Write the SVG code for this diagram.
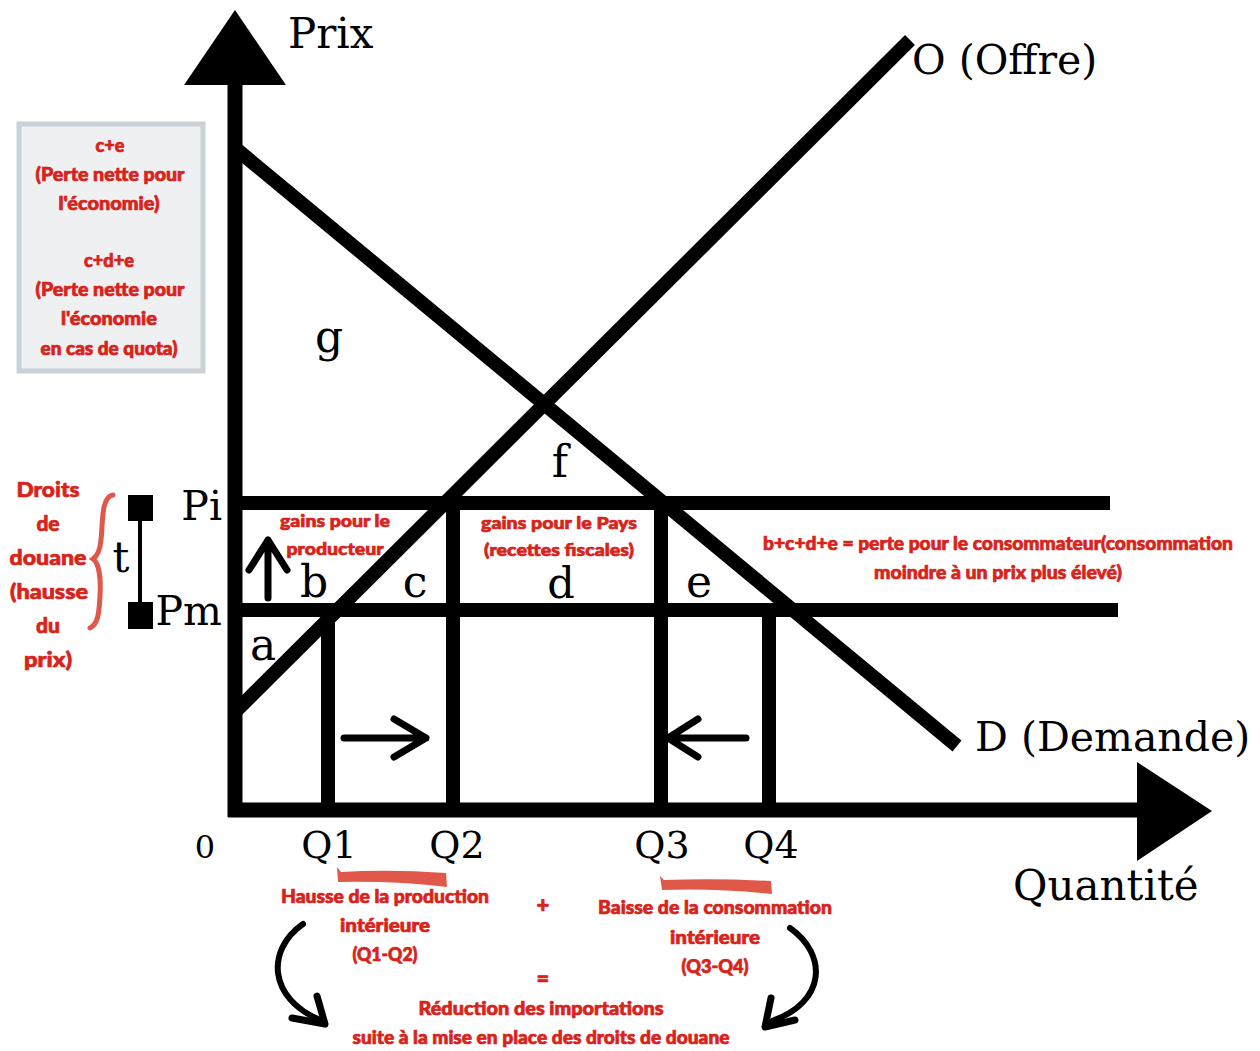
<svg xmlns="http://www.w3.org/2000/svg" width="1260" height="1051" viewBox="0 0 1260 1051">
<style>
.ln{stroke:#000;stroke-width:14;fill:none}
.ar{stroke:#000;stroke-width:7;fill:none;stroke-linecap:round;stroke-linejoin:round}
.sf{font-family:"DejaVu Serif","Liberation Serif",serif;fill:#000}
.rd{font-family:Lato,"Open Sans","Liberation Sans",sans-serif;font-weight:900;fill:#d9231a;stroke:#d9231a;stroke-width:0.7;font-size:18px;text-anchor:middle}
.br{fill:#e0584a}
</style>
<rect width="1260" height="1051" fill="#fff"/>

<g id="note-box">
<rect x="19" y="124" width="184" height="247" fill="#eef0f2" stroke="#c9d1d9" stroke-width="5"/>
<text class="rd" x="110" y="152" textLength="29" lengthAdjust="spacingAndGlyphs">c+e</text>
<text class="rd" x="110" y="181" textLength="149" lengthAdjust="spacingAndGlyphs">(Perte nette pour</text>
<text class="rd" x="109" y="210" textLength="101" lengthAdjust="spacingAndGlyphs">l'économie)</text>
<text class="rd" x="109" y="267" textLength="50" lengthAdjust="spacingAndGlyphs">c+d+e</text>
<text class="rd" x="110" y="296" textLength="149" lengthAdjust="spacingAndGlyphs">(Perte nette pour</text>
<text class="rd" x="109" y="325" textLength="96" lengthAdjust="spacingAndGlyphs">l'économie</text>
<text class="rd" x="109" y="355" textLength="137" lengthAdjust="spacingAndGlyphs">en cas de quota)</text>
</g>

<g id="droits-label">
<text class="rd" style="font-size:21px" x="48" y="497" textLength="63" lengthAdjust="spacingAndGlyphs">Droits</text>
<text class="rd" style="font-size:21px" x="48" y="531">de</text>
<text class="rd" style="font-size:21px" x="48" y="565" textLength="77" lengthAdjust="spacingAndGlyphs">douane</text>
<text class="rd" style="font-size:21px" x="49" y="599" textLength="78" lengthAdjust="spacingAndGlyphs">(hausse</text>
<text class="rd" style="font-size:21px" x="48" y="633">du</text>
<text class="rd" style="font-size:21px" x="48" y="667" textLength="48" lengthAdjust="spacingAndGlyphs">prix)</text>
<path d="M113,495 C101,497 103,522 101,540 C100,551 97,556 93,559 C99,563 101,578 100,596 C99,614 98,624 90,628" fill="none" stroke="#e0584a" stroke-width="5" stroke-linecap="round"/>
</g>

<g id="tariff-t">
<rect x="128" y="495" width="25" height="26" fill="#000"/>
<rect x="128" y="602" width="25" height="27" fill="#000"/>
<line x1="140" y1="510" x2="140" y2="615" stroke="#000" stroke-width="4"/>
<text class="sf" x="121" y="572" font-size="42" text-anchor="middle">t</text>
</g>

<g id="axes">
<line class="ln" x1="235" y1="80" x2="235" y2="817" style="stroke-width:15"/>
<polygon points="235,10 184,85 286,85" fill="#000"/>
<line class="ln" x1="228" y1="810" x2="1142" y2="810" style="stroke-width:15"/>
<polygon points="1137,762 1137,861 1212,811" fill="#000"/>
<text class="sf" x="288" y="48" font-size="42">Prix</text>
<text class="sf" x="1013" y="900" font-size="42">Quantité</text>
<text class="sf" x="205" y="858" font-size="32" text-anchor="middle">0</text>
</g>

<g id="price-lines">
<line class="ln" x1="235" y1="503" x2="1110" y2="503"/>
<line class="ln" x1="235" y1="610" x2="1118" y2="610"/>
<text class="sf" x="222" y="520" font-size="41" text-anchor="end">Pi</text>
<text class="sf" x="222" y="625" font-size="41" text-anchor="end">Pm</text>
</g>

<g id="quantity-lines">
<line class="ln" x1="328" y1="610" x2="328" y2="810"/>
<line class="ln" x1="453" y1="503" x2="453" y2="810"/>
<line class="ln" x1="661" y1="503" x2="661" y2="810"/>
<line class="ln" x1="769" y1="610" x2="769" y2="810"/>
<text class="sf" x="329" y="858" font-size="38" text-anchor="middle">Q1</text>
<text class="sf" x="457" y="858" font-size="38" text-anchor="middle">Q2</text>
<text class="sf" x="662" y="858" font-size="38" text-anchor="middle">Q3</text>
<text class="sf" x="771" y="858" font-size="38" text-anchor="middle">Q4</text>
</g>

<g id="supply">
<line class="ln" x1="235" y1="712" x2="910" y2="40"/>
<text class="sf" x="912" y="74" font-size="41">O (Offre)</text>
</g>

<g id="demand">
<line class="ln" x1="235" y1="148" x2="957" y2="746"/>
<text class="sf" x="975" y="751" font-size="41">D (Demande)</text>
</g>

<g id="areas">
<text class="sf" x="329" y="352" font-size="44" text-anchor="middle">g</text>
<text class="sf" x="560" y="477" font-size="44" text-anchor="middle">f</text>
<text class="sf" x="314" y="597" font-size="44" text-anchor="middle">b</text>
<text class="sf" x="415" y="597" font-size="44" text-anchor="middle">c</text>
<text class="sf" x="561" y="598" font-size="43" text-anchor="middle">d</text>
<text class="sf" x="699" y="597" font-size="44" text-anchor="middle">e</text>
<text class="sf" x="263" y="660" font-size="44" text-anchor="middle">a</text>
</g>

<g id="area-labels">
<text class="rd" style="font-size:17px" x="335" y="527" textLength="110" lengthAdjust="spacingAndGlyphs">gains pour le</text>
<text class="rd" style="font-size:17px" x="335" y="555" textLength="97" lengthAdjust="spacingAndGlyphs">producteur</text>
<text class="rd" style="font-size:17px" x="559" y="529" textLength="156" lengthAdjust="spacingAndGlyphs">gains pour le Pays</text>
<text class="rd" style="font-size:17px" x="559" y="556" textLength="150" lengthAdjust="spacingAndGlyphs">(recettes fiscales)</text>
<text class="rd" x="998" y="550" textLength="470" lengthAdjust="spacingAndGlyphs">b+c+d+e = perte pour le consommateur(consommation</text>
<text class="rd" x="998" y="579" textLength="248" lengthAdjust="spacingAndGlyphs">moindre à un prix plus élevé)</text>
</g>

<g id="connectors">
<path class="ar" d="M268,598 L268,540 M249,570 L268,540 L287,570"/>
<path class="ar" d="M344,738 L426,738 M394,719 L426,738 L394,757"/>
<path class="ar" d="M746,738 L668,738 M698,719 L668,738 L698,757"/>
<path class="ar" d="M303,924 C266,950 268,998 320,1020" style="stroke-width:6"/>
<path class="ar" d="M292,1018 L325,1024 L317,996" style="stroke-width:7"/>
<path class="ar" d="M790,928 C828,955 826,1002 772,1021" style="stroke-width:6"/>
<path class="ar" d="M795,1020 L765,1027 L771,998" style="stroke-width:7"/>
</g>

<g id="bottom-text">
<path class="br" d="M337,867 L341,872 Q390,869 446,873 L447,887 Q400,881 338,882 Z"/>
<path class="br" d="M660,876 L664,880 Q716,878 771,881 L772,894 Q716,888 662,890 Z"/>
<text class="rd" x="385" y="903" textLength="208" lengthAdjust="spacingAndGlyphs">Hausse de la production</text>
<text class="rd" x="385" y="932" textLength="90" lengthAdjust="spacingAndGlyphs">intérieure</text>
<text class="rd" x="385" y="961" textLength="65" lengthAdjust="spacingAndGlyphs">(Q1-Q2)</text>
<text class="rd" style="font-size:22px" x="543" y="913">+</text>
<text class="rd" x="715" y="914" textLength="234" lengthAdjust="spacingAndGlyphs">Baisse de la consommation</text>
<text class="rd" x="715" y="944" textLength="90" lengthAdjust="spacingAndGlyphs">intérieure</text>
<text class="rd" x="715" y="973" textLength="67" lengthAdjust="spacingAndGlyphs">(Q3-Q4)</text>
<text class="rd" style="font-size:22px" x="543" y="987">=</text>
<text class="rd" x="541" y="1015" textLength="245" lengthAdjust="spacingAndGlyphs">Réduction des  importations</text>
<text class="rd" x="541" y="1044" textLength="377" lengthAdjust="spacingAndGlyphs">suite à la mise en place des droits de douane</text>
</g>
</svg>
